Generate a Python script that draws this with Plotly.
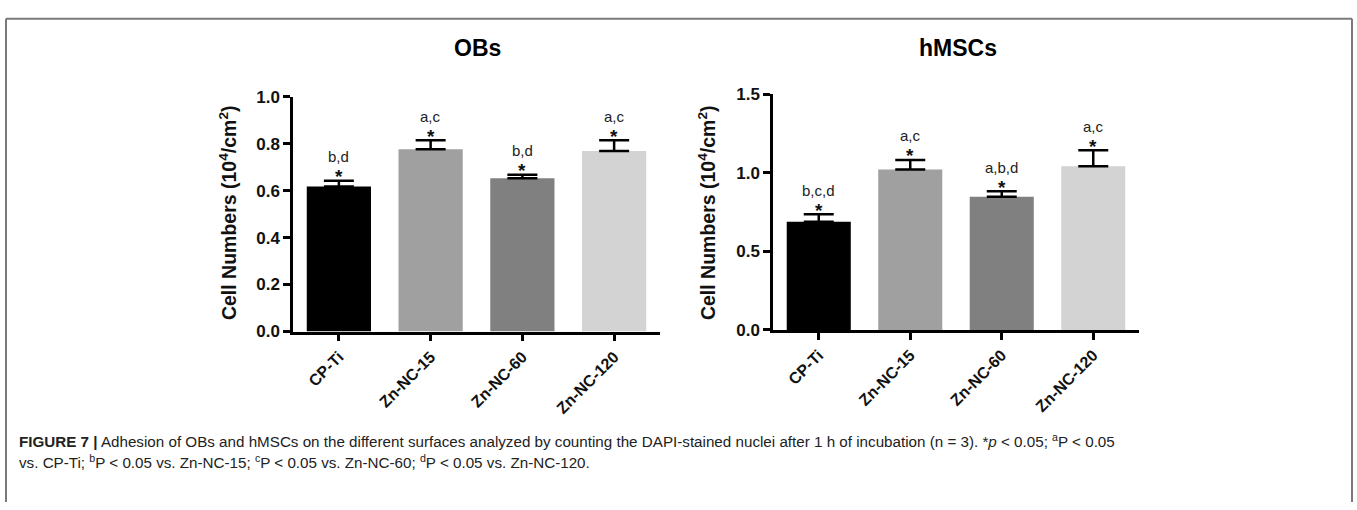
import plotly.graph_objects as go

W, H = 1357, 510

categories = ["CP-Ti", "Zn-NC-15", "Zn-NC-60", "Zn-NC-120"]
bar_colors = ["#000000", "#a0a0a0", "#808080", "#d3d3d3"]

obs_values = [0.617, 0.776, 0.652, 0.768]
obs_errors = [0.025, 0.038, 0.015, 0.046]
obs_letters = ["b,d", "a,c", "b,d", "a,c"]

hmsc_values = [0.688, 1.020, 0.847, 1.041]
hmsc_errors = [0.047, 0.061, 0.035, 0.102]
hmsc_letters = ["b,c,d", "a,c", "a,b,d", "a,c"]

obs_ticks = [0.0, 0.2, 0.4, 0.6, 0.8, 1.0]
hmsc_ticks = [0.0, 0.5, 1.0, 1.5]

FONT = "Liberation Sans, Arial, sans-serif"

fig = go.Figure()

def px_x(p):
    return p / W

def px_y(p):
    return 1 - p / H

panels = [
    dict(vals=obs_values, errs=obs_errors, letters=obs_letters, xa="x", ya="y",
         xdom=[px_x(293), px_x(660)], ydom=[px_y(335), px_y(91)], yr=[0, 1.0],
         ticks=obs_ticks, fmt=".1f", title="OBs", tx=477, ytx=228),
    dict(vals=hmsc_values, errs=hmsc_errors, letters=hmsc_letters, xa="x2", ya="y2",
         xdom=[px_x(773), px_x(1139)], ydom=[px_y(333.3), px_y(88.3)], yr=[0, 1.5],
         ticks=hmsc_ticks, fmt=".1f", title="hMSCs", tx=958, ytx=707),
]

for i, p in enumerate(panels):
    fig.add_trace(go.Bar(
        x=categories, y=p["vals"], xaxis=p["xa"], yaxis=p["ya"],
        marker=dict(color=bar_colors, line=dict(width=0)),
        width=0.7,
        error_y=dict(type="data", array=p["errs"], arrayminus=[0] * 4, symmetric=False,
                     color="#000000", thickness=2.5, width=15),
        showlegend=False, hoverinfo="skip",
    ))
    sfx = "" if i == 0 else "2"
    fig.update_layout(**{
        "xaxis" + sfx: dict(domain=p["xdom"], anchor=p["ya"], range=[-0.5, 3.5],
                            showline=True, linecolor="#000000", linewidth=2.5,
                            ticks="outside", ticklen=7, tickwidth=2.5, tickcolor="#000000",
                            tickangle=-45,
                            tickfont=dict(family=FONT, size=16, color="#111111", weight="bold"),
                            showgrid=False, zeroline=False, fixedrange=True),
        "yaxis" + sfx: dict(domain=p["ydom"], anchor=p["xa"], range=p["yr"],
                            tickvals=p["ticks"], tickformat=p["fmt"],
                            showline=True, linecolor="#000000", linewidth=2.5,
                            ticks="outside", ticklen=7, tickwidth=2.5, tickcolor="#000000",
                            tickfont=dict(family=FONT, size=17, color="#111111", weight="bold"),
                            showgrid=False, zeroline=False, fixedrange=True),
    })
    # significance annotations
    for j, cat in enumerate(categories):
        top = p["vals"][j] + p["errs"][j]
        fig.add_annotation(x=cat, y=top, xref=p["xa"], yref=p["ya"], text="<b>*</b>",
                           showarrow=False, yanchor="middle", yshift=4,
                           font=dict(family=FONT, size=19, color="#111111"))
        fig.add_annotation(x=cat, y=top, xref=p["xa"], yref=p["ya"], text=p["letters"][j],
                           showarrow=False, yanchor="middle", yshift=24,
                           font=dict(family=FONT, size=15, color="#222222"))
    # panel title
    fig.add_annotation(x=px_x(p["tx"]), y=px_y(40), xref="paper", yref="paper",
                       text="<b>" + p["title"] + "</b>", showarrow=False,
                       xanchor="center", yanchor="middle",
                       font=dict(family=FONT, size=23, color="#000000"))
    # y axis title
    fig.add_annotation(x=px_x(p["ytx"]), y=px_y(212), xref="paper", yref="paper",
                       text="<b>Cell Numbers (10<sup>4</sup>/cm<sup>2</sup>)</b>", showarrow=False,
                       textangle=-90, xanchor="center", yanchor="middle",
                       font=dict(family=FONT, size=19.5, color="#111111"))

caption1 = ("<b>FIGURE 7 |</b> Adhesion of OBs and hMSCs on the different surfaces analyzed by counting the "
            "DAPI-stained nuclei after 1 h of incubation (n = 3). *<i>p</i> &lt; 0.05; <sup>a</sup>P &lt; 0.05")
caption2 = ("vs. CP-Ti; <sup>b</sup>P &lt; 0.05 vs. Zn-NC-15; <sup>c</sup>P &lt; 0.05 vs. Zn-NC-60; "
            "<sup>d</sup>P &lt; 0.05 vs. Zn-NC-120.")
cap_font = dict(family=FONT, size=15.2, color="#222222")
fig.add_annotation(x=px_x(17), y=px_y(448), xref="paper", yref="paper", text=caption1,
                   showarrow=False, xanchor="left", yanchor="middle", align="left", font=cap_font)
fig.add_annotation(x=px_x(17), y=px_y(470), xref="paper", yref="paper", text=caption2,
                   showarrow=False, xanchor="left", yanchor="middle", align="left", font=cap_font)

# frame
frame = dict(color="#7a7a7a", width=2)
fig.add_shape(type="line", xref="paper", yref="paper", x0=px_x(6), x1=px_x(1352), y0=px_y(10), y1=px_y(10), line=frame)
fig.add_shape(type="line", xref="paper", yref="paper", x0=px_x(6), x1=px_x(6), y0=px_y(10), y1=px_y(512), line=frame)
fig.add_shape(type="line", xref="paper", yref="paper", x0=px_x(1352), x1=px_x(1352), y0=px_y(10), y1=px_y(512), line=frame)

fig.update_layout(width=W, height=H, margin=dict(l=0, r=0, t=0, b=0),
                  paper_bgcolor="#ffffff", plot_bgcolor="#ffffff", bargap=0.3)

fig.write_html("out.html", config={"displayModeBar": False})
